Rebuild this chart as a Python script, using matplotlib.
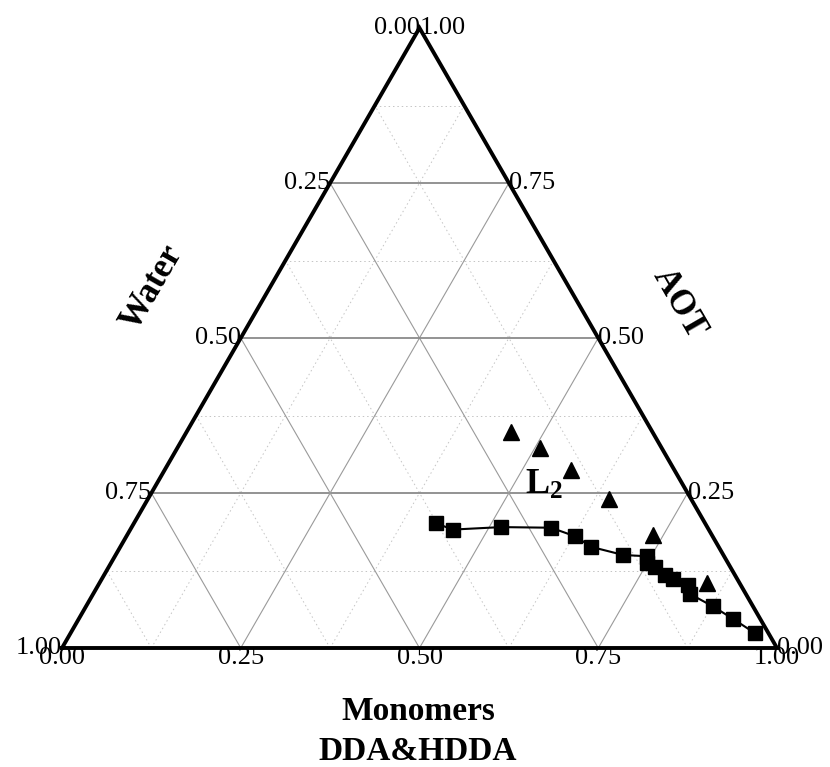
import numpy as np
import matplotlib
matplotlib.use("Agg")
import matplotlib.pyplot as plt

plt.rcParams['font.family'] = ['Liberation Serif', 'DejaVu Serif']
plt.rcParams['mathtext.fontset'] = 'custom'
plt.rcParams['mathtext.rm'] = 'Liberation Serif'
plt.rcParams['mathtext.bf'] = 'Liberation Serif:bold'

# ---- data (ternary fractions) ----
sq_aot = [0.201, 0.191, 0.195, 0.194, 0.180, 0.163, 0.150, 0.148, 0.137,
          0.131, 0.118, 0.112, 0.102, 0.087, 0.067, 0.047, 0.024]
sq_monomers = [0.423, 0.451, 0.517, 0.587, 0.628, 0.659, 0.710, 0.744, 0.750,
               0.764, 0.785, 0.798, 0.824, 0.835, 0.877, 0.915, 0.957]
sq_water = [0.376, 0.358, 0.288, 0.219, 0.192, 0.178, 0.140, 0.108, 0.113,
            0.105, 0.097, 0.090, 0.074, 0.078, 0.056, 0.038, 0.019]

tri_aot = [0.349, 0.322, 0.287, 0.241, 0.182, 0.105]
tri_monomers = [0.454, 0.507, 0.568, 0.644, 0.735, 0.849]
tri_water = [0.197, 0.171, 0.145, 0.115, 0.083, 0.046]

major_ticks = [0.25, 0.50, 0.75]
minor_ticks = [0.125, 0.375, 0.625, 0.875]
edge_labels = ["0.00", "0.25", "0.50", "0.75", "1.00"]
edge_values = [0.0, 0.25, 0.50, 0.75, 1.0]

# L2 region label (ternary position: aot, monomers)
l2_aot, l2_mono = 0.263, 0.542

S = np.sqrt(3) / 2


def tern(aot, mono):
    aot = np.asarray(aot, float)
    mono = np.asarray(mono, float)
    return mono + aot / 2, aot * S


W, H = 830, 767
fig = plt.figure(figsize=(W / 100, H / 100), dpi=100)
ax = fig.add_axes([62 / W, 119 / H, 715 / W, 620 / H])
ax.set_xlim(0, 1)
ax.set_ylim(0, S)
ax.axis('off')


def gridline(c, kind, **kw):
    if kind == 'aot':
        p = tern([c, c], [0, 1 - c])
    elif kind == 'mono':
        p = tern([0, 1 - c], [c, c])
    else:  # water
        p = tern([0, 1 - c], [1 - c, 0])
    ax.plot(p[0], p[1], **kw)


for c in minor_ticks:
    for k in ('aot', 'mono', 'water'):
        gridline(c, k, color='#c4c4c4', lw=0.7, ls=(0, (1.5, 3)), zorder=1)
for c in major_ticks:
    gridline(c, 'aot', color='#8a8a8a', lw=1.3, zorder=2)
    gridline(c, 'mono', color='#9a9a9a', lw=0.8, zorder=2)
    gridline(c, 'water', color='#9a9a9a', lw=0.8, zorder=2)

# border
bx, by = tern([0, 0, 1, 0], [0, 1, 0, 0])
ax.plot(bx, by, color='black', lw=2.8, zorder=5, solid_joinstyle='miter', clip_on=False)

fs = 19
# left edge: water labels (water = 1 - aot along left edge)
for v, lab in zip(edge_values, edge_labels):
    x, y = tern(1 - v, 0)
    ax.text(x, y, lab, ha='right', va='center', fontsize=fs, clip_on=False)
# right edge: AOT labels
for v, lab in zip(edge_values, edge_labels):
    x, y = tern(v, 1 - v)
    ax.text(x, y, lab, ha='left', va='center', fontsize=fs, clip_on=False)
# bottom edge: monomer labels
for v, lab in zip(edge_values, edge_labels):
    x, y = tern(0, v)
    ax.text(x, y + 0.002, lab, ha='center', va='top', fontsize=fs, clip_on=False)

# data
sx, sy = tern(sq_aot, sq_monomers)
ax.plot(sx, sy, color='black', lw=1.5, marker='s', markersize=10, zorder=6, clip_on=False)
tx, ty = tern(tri_aot, tri_monomers)
ax.plot(tx, ty, ls='none', color='black', marker='^', markersize=11, zorder=6, clip_on=False)

# L2 label
lx, ly = tern(l2_aot, l2_mono)
ax.text(lx, ly, r'$\mathbf{L_2}$', fontsize=26, ha='center', va='center', zorder=7)

# axis titles
fig.text(152 / W, 1 - 288 / H, 'Water', rotation=60, fontsize=25, fontweight='bold',
         ha='center', va='center', rotation_mode='anchor')
fig.text(679 / W, 1 - 303 / H, 'AOT', rotation=-60, fontsize=25, fontweight='bold',
         ha='center', va='center', rotation_mode='anchor')
fig.text(418 / W, 1 - 711 / H, 'Monomers', fontsize=24, fontweight='bold', ha='center', va='center')
fig.text(418 / W, 1 - 752 / H, 'DDA&HDDA', fontsize=24, fontweight='bold', ha='center', va='center')

fig.savefig('out.png', dpi=100)
